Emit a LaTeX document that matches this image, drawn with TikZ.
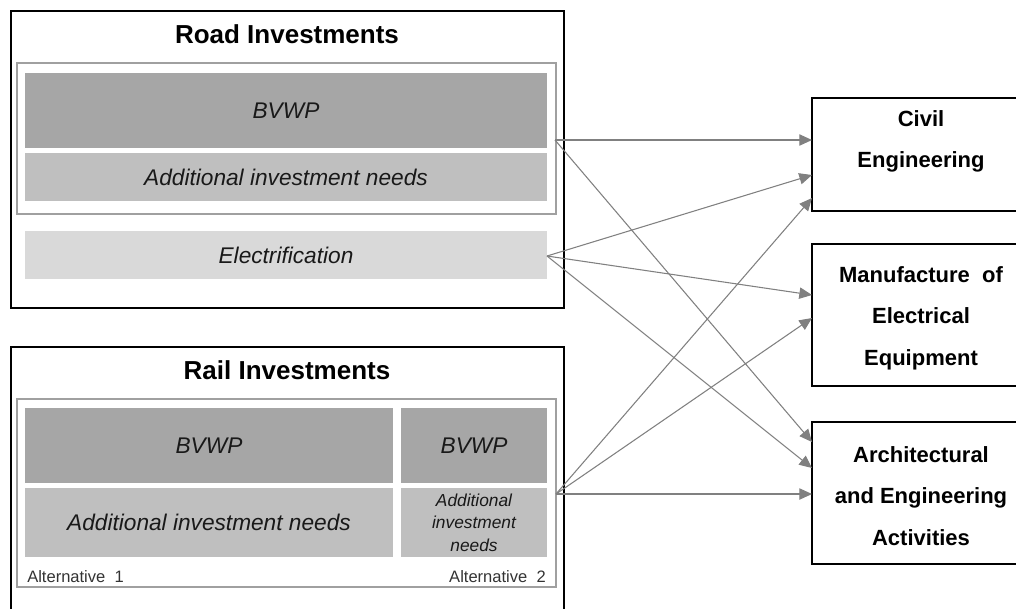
\documentclass[tikz,border=0pt]{standalone}
\usepackage{fontspec}
\setmainfont{Liberation Sans}
\usetikzlibrary{arrows.meta}
\definecolor{dark}{HTML}{A6A6A6}
\definecolor{mid}{HTML}{BFBFBF}
\definecolor{light}{HTML}{D9D9D9}
\definecolor{framegray}{HTML}{A0A0A0}
\definecolor{arrgray}{HTML}{808080}
\definecolor{labgray}{HTML}{333333}
\tikzset{
  pbox/.style 2 args={rectangle, minimum width=#1*0.75pt, minimum height=#2*0.75pt, inner sep=0pt, outer sep=0pt},
  outerbox/.style={draw=black, line width=1.5pt},
  rightbox/.style={draw=black, line width=1.8pt, fill=white},
  innerframe/.style={draw=framegray, line width=1.3pt},
  titletext/.style={font=\fontsize{19.5}{23}\selectfont\bfseries},
  ittext/.style={font=\fontsize{17}{20}\selectfont\itshape, text=black!90},
  smallit/.style={font=\fontsize{13}{17}\selectfont\itshape, align=center, text=black!90},
  alttext/.style={font=\fontsize{12.4}{14}\selectfont, text=labgray},
  sectortext/.style={font=\fontsize{16.5}{31}\selectfont\bfseries, align=center},
  arr/.style={draw=arrgray, line width=0.8pt, -{Triangle[length=9.5pt, width=8.5pt]}}
}
\begin{document}
\begin{tikzpicture}[x=0.75pt, y=-0.75pt]
\useasboundingbox (0,0) rectangle (1016,608);
% Road investments
\node[pbox={553}{297}, outerbox] (road) at (287.5,159.5) {};
\node[titletext] (roadtitle) at (287,34) {Road Investments};
\node[pbox={539}{151}, innerframe] (roadin) at (286.5,138.5) {};
\node[pbox={522}{75}, fill=dark, ittext] (roadbvwp) at (286,110.5) {BVWP};
\node[pbox={522}{48}, fill=mid, ittext] (roadadd) at (286,177) {Additional investment needs};
\node[pbox={522}{48}, fill=light, ittext] (roadel) at (286,255) {Electrification};
% Rail investments
\node[pbox={553}{265}, outerbox] (rail) at (287.5,479.5) {};
\node[titletext] (railtitle) at (287,370) {Rail Investments};
\node[pbox={539}{188}, innerframe] (railin) at (286.5,493) {};
\node[pbox={368}{75}, fill=dark, ittext] (rb1) at (209,445.5) {BVWP};
\node[pbox={146}{75}, fill=dark, ittext] (rb2) at (474,445.5) {BVWP};
\node[pbox={368}{69}, fill=mid, ittext] (ra1) at (209,522.5) {Additional investment needs};
\node[pbox={146}{69}, fill=mid, smallit] (ra2) at (474,522.5) {Additional\\investment\\needs};
\node[alttext, anchor=west, inner sep=0pt] (alt1) at (27,577) {Alternative\ \ 1};
\node[alttext, anchor=east, inner sep=0pt] (alt2) at (546,577) {Alternative\ \ 2};
% Sector boxes
\node[pbox={218}{113}, rightbox] (civil) at (921,154.5) {};
\node[sectortext] (civiltext) at (921,141.5) {Civil\\Engineering};
\node[pbox={218}{142}, rightbox] (manu) at (921,315) {};
\node[sectortext] (manutext) at (921,318) {Manufacture\ \ of\\Electrical\\Equipment};
\node[pbox={218}{142}, rightbox] (arch) at (921,493) {};
\node[sectortext] (archtext) at (921,496) {Architectural\\and Engineering\\Activities};
% connector ends
\coordinate (s1) at (555,140);
\coordinate (s2) at (547,256);
\coordinate (s3) at (556,494);
\coordinate (c1) at (812,140);
\coordinate (c2) at (812,175);
\coordinate (c3) at (812,198);
\coordinate (m1) at (812,295);
\coordinate (m2) at (812,318);
\coordinate (a1) at (812,442);
\coordinate (a2) at (812,468);
\coordinate (a3) at (812,494);
% connectors
\draw[arr] (s1) -- (c1);
\draw[arr] (s1) -- (a1);
\draw[arr] (s2) -- (c2);
\draw[arr] (s2) -- (m1);
\draw[arr] (s2) -- (a2);
\draw[arr] (s3) -- (c3);
\draw[arr] (s3) -- (m2);
\draw[arr] (s3) -- (a3);
\end{tikzpicture}
\end{document}
